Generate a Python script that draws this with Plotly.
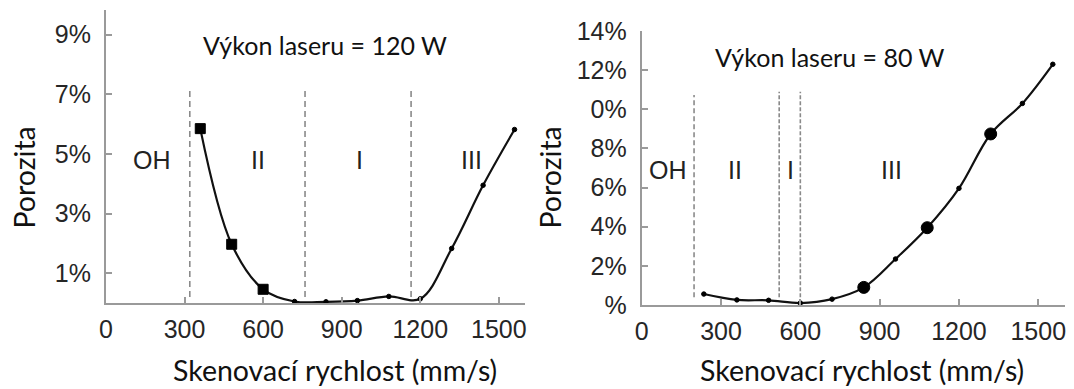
import plotly.graph_objects as go

# Scan speed (mm/s) and porosity (%) for the two laser powers
speed_120 = [360, 480, 600, 720, 840, 960, 1080, 1200, 1320, 1440, 1560]
poro_120 = [5.85, 1.97, 0.46, 0.05, 0.04, 0.08, 0.22, 0.14, 1.83, 3.95, 5.82]
big_120 = [0, 1, 2]          # indices drawn with square markers

speed_80 = [235, 360, 480, 600, 720, 840, 960, 1080, 1200, 1320, 1440, 1555]
poro_80 = [0.56, 0.26, 0.24, 0.1, 0.3, 0.9, 2.35, 3.95, 5.96, 8.74, 10.3, 12.3]
big_80 = [5, 7, 9]           # indices drawn with large round markers

# Process-window boundaries (mm/s)
bounds_120 = [320, 760, 1165]
bounds_80 = [198, 520, 600]

# Region labels and their positions (speed)
regions_120 = [("OH", 176), ("II", 581), ("I", 969), ("III", 1396)]
regions_80 = [("OH", 101), ("II", 353), ("I", 561), ("III", 943)]

x_ticks = [0, 300, 600, 900, 1200, 1500]
y_ticks_120 = [1, 3, 5, 7, 9]
y_labels_120 = ["1%", "3%", "5%", "7%", "9%"]
y_ticks_80 = [0, 2, 4, 6, 8, 10, 12, 14]
y_labels_80 = ["%", "2%", "4%", "6%", "8%", "0%", "12%", "14%"]

W, H = 1074, 389
INK = "#111111"
AXIS = "#9a9a9a"
ARIAL = "Liberation Sans, Arial, sans-serif"
TICK_FONT = dict(family=ARIAL, size=25, color="#262626")
TEXT_FONT = "Lato, Calibri, sans-serif"

fig = go.Figure()

def marker_spec(n, big_idx, big_symbol, big_size):
    symbols = [big_symbol if i in big_idx else "circle" for i in range(n)]
    sizes = [big_size if i in big_idx else 4.5 for i in range(n)]
    return dict(symbol=symbols, size=sizes, color="#000", opacity=1,
                line=dict(width=1, color="#000"))

fig.add_trace(go.Scatter(
    x=speed_120, y=poro_120, mode="lines+markers",
    line=dict(color=INK, width=2.2, shape="spline", smoothing=1.0),
    marker=marker_spec(len(speed_120), big_120, "square", 10),
    xaxis="x", yaxis="y", showlegend=False, cliponaxis=False,
))
fig.add_trace(go.Scatter(
    x=speed_80, y=poro_80, mode="lines+markers",
    line=dict(color=INK, width=2.2, shape="spline", smoothing=1.0),
    marker=marker_spec(len(speed_80), big_80, "circle", 12),
    xaxis="x2", yaxis="y2", showlegend=False, cliponaxis=False,
))

shapes = []
for b in bounds_120:
    shapes.append(dict(type="line", xref="x", yref="y", x0=b, x1=b, y0=0.2, y1=7.25,
                       line=dict(color="#8a8a8a", width=1.6, dash="6px,4px")))
for i, b in enumerate(bounds_80):
    top = 10.73 if i == 0 else 10.9
    shapes.append(dict(type="line", xref="x2", yref="y2", x0=b, x1=b, y0=0.4, y1=top,
                       line=dict(color="#8a8a8a", width=1.6,
                                 dash="5px,3px" if i == 0 else "4px,2px")))

annotations = []
for txt, xv in regions_120:
    annotations.append(dict(text=txt, x=xv, y=4.8, xref="x", yref="y", showarrow=False,
                            font=dict(family=ARIAL, size=25, color="#222")))
for txt, xv in regions_80:
    annotations.append(dict(text=txt, x=xv, y=6.9, xref="x2", yref="y2", showarrow=False,
                            font=dict(family=ARIAL, size=25, color="#222")))

def px(xp, yp):
    return xp / W, 1 - yp / H

for txt, (xp, yp), ang in [
    ("Výkon laseru = 120 W", (324.5, 45), 0),
    ("Výkon laseru = 80 W", (830, 57), 0),
    ("Porozita", (23.5, 178), -90),
    ("Porozita", (549.5, 178), -90),
    ("Skenovací rychlost (mm/s)", (335, 370), 0),
    ("Skenovací rychlost (mm/s)", (862, 370), 0),
]:
    xx, yy = px(xp, yp)
    size = 25 if txt.startswith("Výkon") else 28.5
    annotations.append(dict(text=txt, x=xx, y=yy, xref="paper", yref="paper",
                            xanchor="center", yanchor="middle", showarrow=False,
                            textangle=ang, borderpad=0,
                            font=dict(family=TEXT_FONT, size=size, color="#111")))

def xaxis_cfg(domain, anchor):
    return dict(domain=domain, anchor=anchor, range=[0, 1600], tickvals=x_ticks,
                ticktext=[str(v) for v in x_ticks], ticks="inside", ticklen=6,
                tickwidth=1.5, tickcolor=AXIS, showline=True, linecolor=AXIS, linewidth=2,
                showgrid=False, zeroline=False, tickfont=TICK_FONT, ticklabelstandoff=3,
                automargin=False)

def yaxis_cfg(domain, anchor, rng, vals, labels):
    return dict(domain=domain, anchor=anchor, range=rng, tickvals=vals, ticktext=labels,
                ticks="inside", ticklen=6, tickwidth=1.5, tickcolor=AXIS, showline=True,
                linecolor=AXIS, linewidth=2, showgrid=False, zeroline=False,
                tickfont=TICK_FONT, ticklabelstandoff=8, automargin=False)

fig.update_layout(
    width=W, height=H, margin=dict(l=0, r=0, t=0, b=0, autoexpand=False),
    paper_bgcolor="white", plot_bgcolor="white",
    xaxis=xaxis_cfg([106 / W, 525 / W], "y"),
    yaxis=yaxis_cfg([1 - 303 / H, 1 - 10 / H], "x", [0, 9.83], y_ticks_120, y_labels_120),
    xaxis2=xaxis_cfg([641.7 / W, 1064.7 / W], "y2"),
    yaxis2=yaxis_cfg([1 - 305 / H, 1 - 31 / H], "x2", [0, 14.0], y_ticks_80, y_labels_80),
    shapes=shapes, annotations=annotations,
)

fig.write_html("out.html")
